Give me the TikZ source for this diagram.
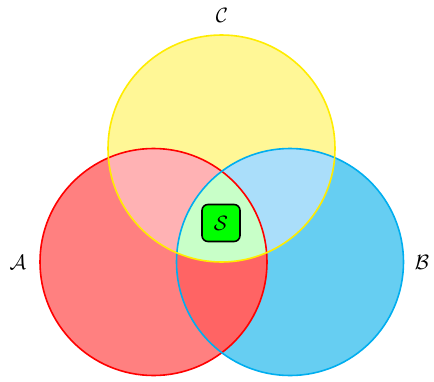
\documentclass[tikz,border=0pt]{standalone}
\definecolor{rOnly}{RGB}{255,128,128}
\definecolor{bOnly}{RGB}{102,206,242}
\definecolor{yOnly}{RGB}{255,247,150}
\definecolor{ryCol}{RGB}{255,178,180}
\definecolor{byCol}{RGB}{170,222,250}
\definecolor{rbCol}{RGB}{255,100,100}
\definecolor{allCol}{RGB}{200,255,200}
\definecolor{rLine}{RGB}{255,0,0}
\definecolor{bLine}{RGB}{0,174,239}
\definecolor{yLine}{RGB}{255,236,0}
\definecolor{sFill}{RGB}{0,255,0}
\begin{document}
\begin{tikzpicture}[x=1pt,y=-1pt,
  lbl/.style={font=\fontsize{22}{26}\selectfont, inner sep=0pt},
  setbox/.style={draw=black, line width=1.6pt, fill=sFill, rounded corners=6pt,
    minimum width=38pt, minimum height=37pt, inner sep=0pt, font=\fontsize{22}{26}\selectfont},
  ring/.style={line width=1.6pt}]
\useasboundingbox (0,0) rectangle (434,381);
\def\R{113.5}
\coordinate (cA) at (153.5,262);
\coordinate (cB) at (290,262);
\coordinate (cC) at (221.5,148.5);
% base fills
\fill[rOnly] (cA) circle (\R);
\fill[bOnly] (cB) circle (\R);
\fill[yOnly] (cC) circle (\R);
% pairwise overlaps
\begin{scope}\clip (cA) circle (\R); \fill[rbCol] (cB) circle (\R); \end{scope}
\begin{scope}\clip (cA) circle (\R); \fill[ryCol] (cC) circle (\R); \end{scope}
\begin{scope}\clip (cB) circle (\R); \fill[byCol] (cC) circle (\R); \end{scope}
\begin{scope}\clip (cA) circle (\R); \clip (cB) circle (\R); \fill[allCol] (cC) circle (\R); \end{scope}
% outlines
\draw[ring, rLine] (cA) circle (\R);
\draw[ring, bLine] (cB) circle (\R);
\draw[ring, yLine] (cC) circle (\R);
% labels
\node[lbl] (la) at (18,262) {$\mathcal{A}$};
\node[lbl] (lb) at (422,262) {$\mathcal{B}$};
\node[lbl] (lc) at (222,15) {$\mathcal{C}$};
\node[setbox] (s) at (221,223) {$\mathcal{S}$};
\end{tikzpicture}
\end{document}
